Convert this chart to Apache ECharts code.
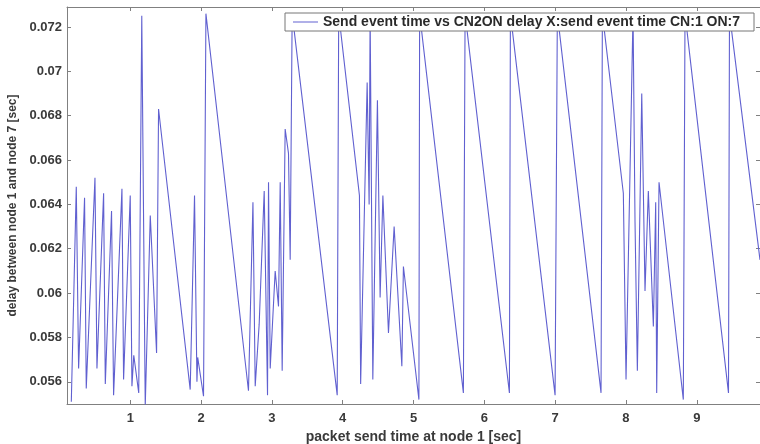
<!DOCTYPE html>
<html>
<head>
<meta charset="utf-8">
<script src="https://cdn.jsdelivr.net/npm/echarts@6/dist/echarts.min.js"></script>
<style>
  html, body { margin: 0; padding: 0; background: #fff; }
  #chart { width: 760px; height: 444px; }
</style>
</head>
<body>
<div id="chart"></div>
<script>
// send time at node 1 [sec]
var sendTime = [
  0.167, 0.237, 0.270, 0.354, 0.378, 0.501, 0.529, 0.623, 0.647, 0.735,
  0.764, 0.882, 0.905, 0.999, 1.023, 1.049, 1.119, 1.162, 1.211, 1.282,
  1.371, 1.399, 1.846, 1.907, 1.941, 1.952, 2.034, 2.068, 2.669, 2.732,
  2.764, 2.820, 2.891, 2.938, 2.952, 2.976, 3.046, 3.093, 3.117, 3.145,
  3.187, 3.234, 3.258, 3.286, 3.922, 3.943, 4.236, 4.253, 4.345, 4.373,
  4.387, 4.425, 4.490, 4.528, 4.567, 4.646, 4.726, 4.835, 4.857, 5.076,
  5.086, 5.704, 5.728, 6.354, 6.368, 6.999, 7.031, 7.648, 7.667, 7.963,
  8.001, 8.100, 8.128, 8.161, 8.223, 8.269, 8.316, 8.387, 8.420, 8.434,
  8.467, 8.810, 8.834, 9.448, 9.462, 9.893
];
// delay between node 1 and node 7 [sec]
var delay = [
  0.0551, 0.0648, 0.0566, 0.0643, 0.0557, 0.0652, 0.0566, 0.0645, 0.0559, 0.0637,
  0.0554, 0.0647, 0.0561, 0.0644, 0.0558, 0.0572, 0.0555, 0.0725, 0.0549, 0.0635,
  0.0573, 0.0683, 0.05565, 0.0644, 0.0560, 0.0571, 0.05535, 0.0726, 0.0556, 0.0641,
  0.0558, 0.0586, 0.0646, 0.0554, 0.0650, 0.0566, 0.0610, 0.0594, 0.0650, 0.0565,
  0.0674, 0.0663, 0.0615, 0.0726, 0.0554, 0.0726, 0.0644, 0.0559, 0.0695, 0.0640,
  0.0726, 0.0561, 0.0687, 0.0598, 0.0644, 0.0582, 0.0630, 0.0567, 0.0612, 0.0552,
  0.0726, 0.0555, 0.0726, 0.0555, 0.0726, 0.0554, 0.0726, 0.0555, 0.0726, 0.0645,
  0.0561, 0.0726, 0.0632, 0.0565, 0.0690, 0.0601, 0.0646, 0.0585, 0.0641, 0.0555,
  0.0650, 0.0552, 0.0726, 0.0555, 0.0726, 0.0615
];
var xTicks = [1, 2, 3, 4, 5, 6, 7, 8, 9];
var yTicks = [0.056, 0.058, 0.06, 0.062, 0.064, 0.066, 0.068, 0.07, 0.072];
var seriesName = 'Send event time vs CN2ON delay X:send event time CN:1 ON:7';

var chart = echarts.init(document.getElementById('chart'));

var axisColor = '#808080';
var fontFamily = 'Liberation Sans, Arial, sans-serif';
var labelStyle = { color: '#3a3a3a', fontSize: 13, fontWeight: 'bold', fontFamily: fontFamily };

function boxX(pos, withLabels) {
  return {
    type: 'value',
    position: pos,
    min: 0.106,
    max: 9.893,
    axisLine: { show: true, onZero: false, lineStyle: { color: axisColor, width: 1 } },
    axisTick: { show: true, inside: true, length: 4, customValues: xTicks, lineStyle: { color: axisColor } },
    axisLabel: Object.assign({ show: withLabels, customValues: xTicks, margin: 8 }, labelStyle),
    splitLine: { show: false }
  };
}
function boxY(pos, withLabels) {
  return {
    type: 'value',
    position: pos,
    min: 0.055,
    max: 0.0729,
    axisLine: { show: true, onZero: false, lineStyle: { color: axisColor, width: 1 } },
    axisTick: { show: true, inside: true, length: 4, customValues: yTicks, lineStyle: { color: axisColor } },
    axisLabel: Object.assign({ show: withLabels, customValues: yTicks, margin: 5,
      formatter: function (v) { return String(v); } }, labelStyle),
    splitLine: { show: false }
  };
}

var xMain = boxX('bottom', true);
xMain.name = 'packet send time at node 1 [sec]';
xMain.nameLocation = 'middle';
xMain.nameGap = 21;
xMain.nameTextStyle = { color: '#3a3a3a', fontSize: 14, fontWeight: 'bold', fontFamily: fontFamily };

var yMain = boxY('left', true);
yMain.name = 'delay between node 1 and node 7 [sec]';
yMain.nameLocation = 'middle';
yMain.nameGap = 45;
yMain.nameTextStyle = { color: '#3a3a3a', fontSize: 12, fontWeight: 'bold', fontFamily: fontFamily };

chart.setOption({
  animation: false,
  backgroundColor: '#fff',
  grid: { left: 67, top: 7, right: 0, bottom: 40, outerBoundsMode: 'none' },
  legend: {
    data: [seriesName],
    left: 285,
    top: 13,
    icon: 'rect',
    itemWidth: 25,
    itemHeight: 1,
    itemGap: 8,
    padding: [2, 14, 2, 8],
    borderColor: '#777',
    borderWidth: 1,
    borderRadius: 0,
    backgroundColor: '#fff',
    textStyle: { color: '#2a2a2a', fontSize: 14, fontWeight: 'bold', fontFamily: fontFamily }
  },
  xAxis: [xMain, boxX('top', false)],
  yAxis: [yMain, boxY('right', false)],
  series: [{
    name: seriesName,
    type: 'line',
    showSymbol: false,
    symbol: 'none',
    clip: true,
    color: '#6060d0',
    lineStyle: { width: 1.1, color: '#6060d0' },
    data: sendTime.map(function (t, i) { return [t, delay[i]]; })
  }]
});
</script>
</body>
</html>
